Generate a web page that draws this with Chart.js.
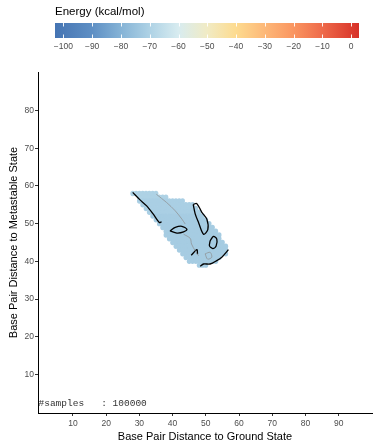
<!DOCTYPE html>
<html>
<head>
<meta charset="utf-8">
<title>Energy landscape</title>
<script src="https://cdn.jsdelivr.net/npm/chart.js@4/dist/chart.umd.min.js"></script>
<style>
  html, body { margin: 0; padding: 0; background: #fff; }
  #wrap { position: relative; width: 373px; height: 442px; }
  #wrap canvas { position: absolute; left: 0; top: 0; }
</style>
</head>
<body>
<div id="wrap">
  <canvas id="main" width="373" height="442"></canvas>
  <canvas id="bar" width="373" height="60"></canvas>
</div>
<script>
// axis ticks
const xTicks = [10, 20, 30, 40, 50, 60, 70, 80, 90];
const yTicks = [10, 20, 30, 40, 50, 60, 70, 80];
const energyTicks = [-100, -90, -80, -70, -60, -50, -40, -30, -20, -10, 0];

// colour scale (kcal/mol -> colour)
const energyStops = [-102.9, -90, -80, -70, -60, -50, -40, -30, -20, -10, 2.7];
const energyColors = ['#4574b3', '#5e8fc4', '#85b3d6', '#aed2e5', '#d8ecf0', '#f1ebc4',
                      '#fddb8f', '#fdb878', '#fa9560', '#ee6a4a', '#d73027'];

// sampled cells, one span per row of metastable distance
const rowY      = [58, 57, 56, 55, 54, 53, 52, 51, 50, 49, 48, 47, 46, 45, 44, 43, 42, 41, 40, 39];
const rowXStart = [28, 30, 30, 31, 32, 33, 34, 35, 36, 37, 38, 38, 39, 40, 41, 42, 43, 44, 45, 48];
const rowXEnd   = [35, 38, 43, 46, 47, 48, 49, 50, 51, 52, 53, 54, 54, 55, 56, 56, 56, 54, 53, 50];
const rowEnergy = [-70, -70, -71, -71, -71, -71, -72, -72, -72, -72, -72, -72, -72, -72, -72, -72, -72, -72, -72, -72];

// contour lines [ground distance, metastable distance]
const contoursMajor = [
  [[28.0, 58.3], [30.2, 56.3], [32.2, 54.7], [34.2, 52.5], [36.0, 50.3], [36.7, 50.5]],
  [[39.2, 48.1], [40.8, 49.0], [42.8, 49.3], [44.3, 48.5], [43.3, 47.8], [41.3, 47.5], [39.2, 48.1]],
  [[46.2, 55.1], [46.8, 52.6], [47.8, 50.3], [49.3, 47.2], [50.6, 48.4], [50.3, 51.2], [48.8, 53.0], [47.3, 55.3], [46.2, 55.1]],
  [[51.3, 45.5], [52.3, 46.6], [53.3, 45.9], [53.1, 44.1], [52.1, 43.4], [51.1, 44.1], [51.3, 45.5]],
  [[48.3, 38.7], [49.3, 39.3], [51.3, 39.3], [53.3, 40.2], [54.8, 41.1], [56.8, 43.1]],
  [[45.6, 41.6], [47.3, 43.1], [47.5, 41.9]]
];
const contoursMinor = [
  [[35.1, 57.8], [38.2, 55.6], [40.8, 53.4], [42.8, 51.2], [43.8, 49.9]],
  [[43.3, 47.2], [45.3, 46.1], [45.7, 44.6], [46.8, 42.8], [47.8, 41.5]],
  [[49.8, 42.0], [51.3, 42.4], [51.8, 41.1], [50.5, 40.6], [49.8, 42.0]]
];

const sampleNote = '#samples   : 100000';

const FONT = '"Liberation Sans", Arial, sans-serif';

function hexToRgb(h) {
  return [1, 3, 5].map(i => parseInt(h.substr(i, 2), 16));
}

function colorAt(e) {
  if (e <= energyStops[0]) return energyColors[0];
  for (let i = 1; i < energyStops.length; i++) {
    if (e <= energyStops[i]) {
      const t = (e - energyStops[i - 1]) / (energyStops[i] - energyStops[i - 1]);
      const a = hexToRgb(energyColors[i - 1]), b = hexToRgb(energyColors[i]);
      const c = a.map((v, k) => Math.round(v + (b[k] - v) * t));
      return `rgb(${c[0]},${c[1]},${c[2]})`;
    }
  }
  return energyColors[energyColors.length - 1];
}

const cells = [];
rowY.forEach((y, i) => {
  for (let x = rowXStart[i]; x <= rowXEnd[i]; x++) cells.push({ x: x, y: y, e: rowEnergy[i] });
});

const toPoints = pts => pts.map(p => ({ x: p[0], y: p[1] }));

const lineSet = (pts, color, width) => ({
  data: toPoints(pts),
  showLine: true,
  borderColor: color,
  borderWidth: width,
  pointRadius: 0,
  tension: 0.3,
  fill: false
});

// soft round cells, like the smoothed raster in the original
const cellPlugin = {
  id: 'cells',
  beforeDatasetsDraw(chart) {
    const { ctx, scales: { x, y } } = chart;
    ctx.save();
    chart.data.datasets[0].data.forEach(c => {
      const cx = x.getPixelForValue(c.x), cy = y.getPixelForValue(c.y);
      const rx = Math.abs(x.getPixelForValue(c.x + 0.72) - cx);
      const ry = Math.abs(y.getPixelForValue(c.y + 0.72) - cy);
      ctx.fillStyle = colorAt(c.e);
      ctx.beginPath();
      ctx.ellipse(cx, cy, rx, ry, 0, 0, Math.PI * 2);
      ctx.fill();
    });
    ctx.restore();
  }
};

const notePlugin = {
  id: 'note',
  afterDatasetsDraw(chart) {
    const { ctx, chartArea } = chart;
    ctx.save();
    ctx.font = '9.5px "Liberation Mono", "DejaVu Sans Mono", monospace';
    ctx.fillStyle = '#333';
    ctx.textBaseline = 'alphabetic';
    ctx.fillText(sampleNote, chartArea.left + 0.5, chartArea.bottom - 7);
    ctx.restore();
  }
};

new Chart(document.getElementById('main'), {
  type: 'scatter',
  data: {
    datasets: [
      { data: cells, pointRadius: 0 },
      ...contoursMinor.map(c => lineSet(c, '#8c8c8c', 0.7)),
      ...contoursMajor.map(c => lineSet(c, '#000', 1.3))
    ]
  },
  options: {
    responsive: false,
    animation: false,
    events: [],
    layout: { padding: { top: 72, right: 1, left: 0, bottom: 0 } },
    plugins: { legend: { display: false }, tooltip: { enabled: false } },
    scales: {
      x: {
        type: 'linear', min: -0.5, max: 100,
        afterBuildTicks: s => { s.ticks = xTicks.map(v => ({ value: v })); },
        afterFit: s => { s.height = 29; },
        ticks: { font: { size: 8.5, family: FONT }, color: '#4d4d4d', padding: 3, maxRotation: 0, autoSkip: false },
        grid: { drawOnChartArea: false, tickLength: 3, color: '#333' },
        border: { color: '#000', width: 1 },
        title: { display: true, text: 'Base Pair Distance to Ground State', color: '#000',
                 font: { size: 11, family: FONT, lineHeight: 1 }, padding: { top: 0, bottom: 0 } }
      },
      y: {
        type: 'linear', min: -0.2, max: 90.2,
        afterBuildTicks: s => { s.ticks = yTicks.map(v => ({ value: v })); },
        afterFit: s => { s.width = 38; },
        ticks: { font: { size: 8.5, family: FONT }, color: '#4d4d4d', padding: 1, autoSkip: false },
        grid: { drawOnChartArea: false, tickLength: 3, color: '#333' },
        border: { color: '#000', width: 1 },
        title: { display: true, text: 'Base Pair Distance to Metastable State', color: '#000',
                 font: { size: 11, family: FONT, lineHeight: 1 }, padding: { top: 8, bottom: 0 } }
      }
    }
  },
  plugins: [cellPlugin, notePlugin]
});

// colour bar
const barTicksPlugin = {
  id: 'barTicks',
  afterDatasetsDraw(chart) {
    const { ctx, chartArea } = chart;
    const xs = chart.scales.x;
    ctx.save();
    ctx.strokeStyle = 'rgba(255,255,255,0.9)';
    ctx.lineWidth = 1;
    energyTicks.forEach(v => {
      const px = Math.round(xs.getPixelForValue(v)) + 0.5;
      ctx.beginPath();
      ctx.moveTo(px, chartArea.top);
      ctx.lineTo(px, chartArea.top + 3.5);
      ctx.moveTo(px, chartArea.bottom - 3.5);
      ctx.lineTo(px, chartArea.bottom);
      ctx.stroke();
    });
    ctx.restore();
  }
};

const eMin = energyStops[0], eMax = energyStops[energyStops.length - 1];

new Chart(document.getElementById('bar'), {
  type: 'bar',
  data: {
    labels: ['Energy'],
    datasets: [{
      data: [[eMin, eMax]],
      backgroundColor: c => {
        const chart = c.chart, xs = chart.scales.x;
        if (!xs || !chart.chartArea) return energyColors[0];
        const g = chart.ctx.createLinearGradient(xs.left, 0, xs.right, 0);
        energyStops.forEach((v, i) => {
          const off = (xs.getPixelForValue(v) - xs.left) / (xs.right - xs.left);
          g.addColorStop(Math.min(1, Math.max(0, off)), energyColors[i]);
        });
        return g;
      },
      borderWidth: 0,
      borderSkipped: false,
      barPercentage: 1,
      categoryPercentage: 1
    }]
  },
  options: {
    indexAxis: 'y',
    responsive: false,
    animation: false,
    events: [],
    layout: { padding: { left: 55, right: 14, top: 0, bottom: 0 } },
    plugins: { legend: { display: false }, tooltip: { enabled: false } },
    scales: {
      x: {
        type: 'linear', position: 'bottom', min: eMin, max: eMax,
        afterBuildTicks: s => { s.ticks = energyTicks.map(v => ({ value: v })); },
        afterFit: s => { s.height = 22; },
        grid: { display: false, drawTicks: false },
        border: { display: false },
        ticks: { padding: 4, color: '#4d4d4d', font: { size: 8.5, family: FONT }, maxRotation: 0, autoSkip: false,
                 callback: v => String(v).replace('-', '\u2212') }
      },
      x2: {
        type: 'linear', position: 'top', min: eMin, max: eMax,
        afterFit: s => { s.height = 23; },
        grid: { display: false, drawTicks: false },
        border: { display: false },
        ticks: { display: false },
        title: { display: true, text: 'Energy (kcal/mol)', align: 'start', color: '#000',
                 font: { size: 11.5, family: FONT, lineHeight: 1 }, padding: { top: 6, bottom: 0 } }
      },
      y: { display: false }
    }
  },
  plugins: [barTicksPlugin]
});
</script>
</body>
</html>
